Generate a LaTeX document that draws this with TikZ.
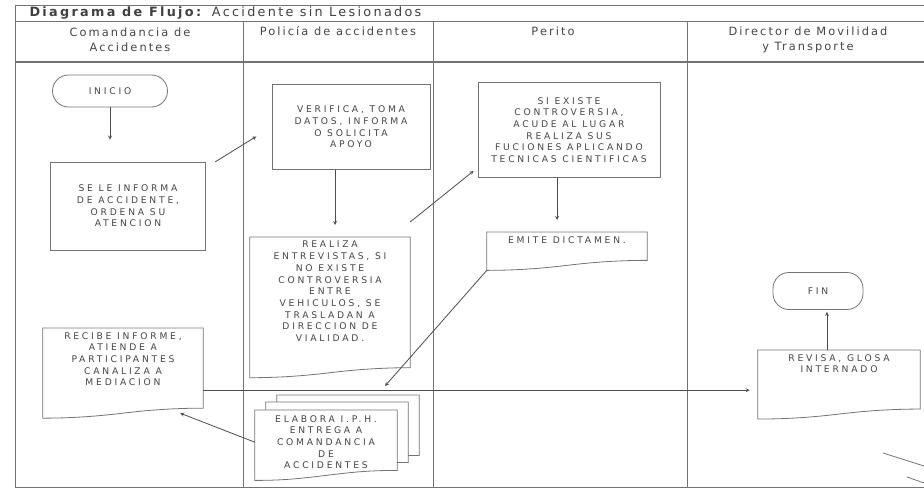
\documentclass[tikz,border=0pt]{standalone}
\usepackage{fontspec}
\setmainfont{DejaVu Sans}
\newfontfamily\cajafont[LetterSpace=30]{DejaVu Sans}
\newfontfamily\encfont[LetterSpace=18]{DejaVu Sans}
\usepackage{tikz}
\usetikzlibrary{positioning}
\definecolor{linea}{gray}{0.45}
\definecolor{texto}{gray}{0.27}
\definecolor{flechagris}{gray}{0.3}
\newcommand{\letracaja}{\cajafont\fontsize{9.2}{11.7}\selectfont}
\newcommand{\letraenc}{\encfont\fontsize{11.4}{15.5}\selectfont}
% hoja de documento: borde inferior ondulado
\newcommand{\docu}[3][]{%
  \path (#2.south west) ++(0,#3) coordinate (#2-so)
        (#2.south east) ++(0,#3-10) coordinate (#2-se)
        (#2.south) ++(0,#3-5) coordinate (#2-sm);
  \draw[contorno, #1] (#2.north west) -- (#2.north east) -- (#2-se)
     .. controls +(-30,0) and +(25,-3) .. (#2-sm)
     .. controls +(-25,3) and +(30,0) .. (#2-so) -- cycle;
}
\tikzstyle{contorno} = [draw=linea, line width=0.8pt]
\tikzstyle{caja} = [contorno, text=texto, align=center, font=\letracaja, inner sep=4pt]
\tikzstyle{hoja} = [text=texto, align=center, font=\letracaja, inner sep=4pt, anchor=north]
\tikzstyle{pila} = [hoja, minimum width=142pt, minimum height=64pt]
\tikzstyle{terminal} = [caja, rounded corners=16pt]
\tikzstyle{encabezado} = [text=texto, align=center, font=\letraenc]
\tikzstyle{flecha} = [draw=flechagris, line width=0.8pt, -stealth]

\begin{document}
\begin{tikzpicture}[x=1pt, y=-1pt]
  \useasboundingbox (0,0) rectangle (924,495);
  % marco y carriles
  \begin{scope}
    \clip (0,0) rectangle (924,495);
    \draw[contorno] (15,5) rectangle (940,487);
    \draw[contorno] (15,21) -- (940,21);
    \draw[contorno, line width=1.2pt] (15,62) -- (940,62);
    \foreach \x in {243,433,687}
      \draw[contorno] (\x,21) -- (\x,487);
  \end{scope}
  \node[anchor=west, text=black!75, font=\encfont\fontsize{12.8}{13}\selectfont] (titulo) at (26,13)
    {\textbf{Diagrama de Flujo:} Accidente sin Lesionados};
  \node[encabezado] (hcom) at (130,40) {Comandancia de\\Accidentes};
  \node[encabezado] (hpol) at (338,31) {Policía de accidentes};
  \node[encabezado] (hper) at (553,31) {Perito};
  \node[encabezado] (hdir) at (808,40) {Director de Movilidad\\y Transporte};

  % comandancia
  \node[terminal, minimum width=115pt, minimum height=32pt] (inicio) at (110,91) {INICIO};
  \node[caja, minimum width=155pt, minimum height=88pt] (informa) at (128,206)
    {SE LE INFORMA\\DE ACCIDENTE,\\ORDENA SU\\ATENCION};
  \node[hoja, minimum width=160pt] (recibe) at (123,328)
    {RECIBE INFORME,\\ATIENDE A\\PARTICIPANTES\\CANALIZA A\\MEDIACION};
  \docu{recibe}{28}

  % policia
  \node[caja, minimum width=158pt, minimum height=85pt] (verifica) at (351,127)
    {VERIFICA, TOMA\\DATOS, INFORMA\\O SOLICITA\\APOYO};
  \node[hoja, minimum width=160pt] (realiza) at (330,237)
    {REALIZA\\ENTREVISTAS, SI\\NO EXISTE\\CONTROVERSIA\\ENTRE\\VEHICULOS, SE\\TRASLADAN A\\DIRECCION DE\\VIALIDAD.};
  \docu{realiza}{32}
  \node[pila] (elabora3) at (348,395) {};
  \docu[fill=white]{elabora3}{6}
  \node[pila] (elabora2) at (337,402) {};
  \docu[fill=white]{elabora2}{6}
  \node[pila, fill=white] (elabora) at (326,410)
    {ELABORA I.P.H.\\ENTREGA A\\COMANDANCIA\\DE\\ACCIDENTES};
  \docu{elabora}{6}

  % perito
  \node[caja, minimum width=182pt, minimum height=95pt] (siexiste) at (569,130)
    {SI EXISTE\\CONTROVERSIA,\\ACUDE AL LUGAR\\REALIZA SUS\\FUCIONES APLICANDO\\TECNICAS CIENTIFICAS};
  \node[hoja, minimum width=160pt] (dictamen) at (567,232) {EMITE DICTAMEN.};
  \docu{dictamen}{23}

  % director
  \node[hoja, minimum width=162pt] (revisa) at (839,350) {REVISA, GLOSA\\INTERNADO};
  \docu{revisa}{42}
  \node[terminal, minimum width=90pt, minimum height=37pt] (fin) at (818,291) {FIN};

  % flechas
  \draw[flecha, shorten >=22pt] (inicio.south) -- (inicio.south |- informa.north);
  \draw[flecha, shorten <=11pt, shorten >=18pt] ([yshift=-6pt]informa.north east) -- (verifica.west);
  \draw[flecha, shorten >=12pt] ([xshift=-16pt]verifica.south) -- ([xshift=5pt]realiza.north);
  \draw[flecha] ([yshift=15pt]realiza.north east) -- ([xshift=-4pt,yshift=7pt]siexiste.south west);
  \draw[flecha, shorten >=12pt] ([xshift=-12pt]siexiste.south) -- ([xshift=-10pt]dictamen.north);
  \draw[flecha] (dictamen-so) -- ([xshift=37pt,yshift=9pt]elabora3.north);
  \draw[flecha] (elabora.west) -- ([xshift=-23pt,yshift=-23pt]recibe.south east);
  \draw[flecha, shorten >=8pt] (recibe.south east) -- (recibe.south east -| revisa.west);
  \draw[flecha, shorten >=2pt] ([xshift=-12pt]revisa.north) -- ([xshift=9pt]fin.south);

  % salidas hacia la derecha
  \coordinate (sal1) at (883,453);
  \coordinate (sal1b) at (924,466);
  \coordinate (sal2) at (907,477);
  \coordinate (sal2b) at (924,483);
  \draw[contorno] (sal1) -- (sal1b);
  \draw[contorno] (sal2) -- (sal2b);
\end{tikzpicture}
\end{document}
